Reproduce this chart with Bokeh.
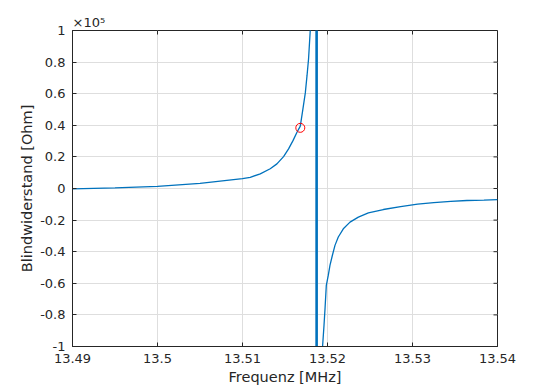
import math
from bokeh.plotting import figure
from bokeh.models import Range1d, FixedTicker
from bokeh.embed import file_html
from bokeh.resources import INLINE

# ---- data (frequency in MHz, reactance in Ohm) ----
left_f = [13.490, 13.495, 13.500, 13.505, 13.510, 13.51091, 13.51209, 13.51326,
          13.51405, 13.51483, 13.51542, 13.51594, 13.51641, 13.5168, 13.51711,
          13.51739, 13.51759, 13.51777, 13.51797, 13.5181]
left_x = [-300, 400, 1400, 3200, 6300, 7100, 9300, 12500,
          15600, 20200, 25100, 30300, 35600, 39500, 50400,
          60500, 71400, 82000, 100000, 130000]

pole_f = [13.51872, 13.51872]
pole_x = [150000, -150000]

right_f = [13.5193, 13.51942, 13.51959, 13.51971, 13.51986, 13.52009, 13.52029,
           13.52057, 13.52088, 13.52127, 13.52186, 13.52265, 13.52363, 13.52481,
           13.52657, 13.5286, 13.5306, 13.5325, 13.5345, 13.5364, 13.5384, 13.54]
right_x = [-130000, -100000, -86600, -76000, -61300, -55000, -48700,
           -42400, -36000, -30700, -25500, -21300, -18100, -15400,
           -13300, -11500, -9900, -8900, -8100, -7600, -7300, -7000]

marker_f = [13.5168]
marker_x = [38400]

x_ticks = [13.49, 13.5, 13.51, 13.52, 13.53, 13.54]
x_tick_labels = ["13.49", "13.5", "13.51", "13.52", "13.53", "13.54"]
y_ticks = [-100000, -80000, -60000, -40000, -20000, 0, 20000, 40000, 60000, 80000, 100000]
y_tick_labels = ["-1", "-0.8", "-0.6", "-0.4", "-0.2", "0", "0.2", "0.4", "0.6", "0.8", "1"]

x_label = "Frequenz [MHz]"
y_label = "Blindwiderstand [Ohm]"
exponent_label = "×10⁵"

FONT = "DejaVu Sans"
TXT = "#262626"
BLUE = "#0072BD"

p = figure(width=550, height=390, output_backend="svg", toolbar_location=None,
           x_range=Range1d(x_ticks[0], x_ticks[-1]), y_range=Range1d(y_ticks[0], y_ticks[-1]),
           min_border_left=72, min_border_right=53, min_border_top=30, min_border_bottom=44)
p.background_fill_color = "white"
p.border_fill_color = "white"
p.outline_line_color = TXT
p.outline_line_width = 1

p.line(left_f, left_x, line_color=BLUE, line_width=1.3)
p.line(pole_f, pole_x, line_color=BLUE, line_width=2.6)
p.line(right_f, right_x, line_color=BLUE, line_width=1.3)
p.scatter(marker_f, marker_x, marker="circle", size=9, fill_color=None,
          line_color="#ff0000", line_width=1)

# inward ticks on the top and right edges of the box
p.ray(x=x_ticks, y=[y_ticks[-1]] * len(x_ticks), length=4, length_units="screen",
      angle=-math.pi / 2, line_color=TXT, line_width=1)
p.ray(x=[x_ticks[-1]] * len(y_ticks), y=y_ticks, length=4, length_units="screen",
      angle=math.pi, line_color=TXT, line_width=1)

def style_axis(ax, ticks, labels):
    ax.ticker = FixedTicker(ticks=ticks)
    ax.minor_tick_line_color = None
    ax.major_tick_in = 4
    ax.major_tick_out = 0
    ax.axis_line_color = TXT
    ax.major_tick_line_color = TXT
    ax.major_label_text_font = FONT
    ax.major_label_text_color = TXT
    ax.major_label_text_font_size = "13px"
    ax.major_label_standoff = 7
    ax.major_label_overrides = {t: l for t, l in zip(ticks, labels)}
    ax.axis_label_text_font = FONT
    ax.axis_label_text_font_size = "14.5px"
    ax.axis_label_text_font_style = "normal"
    ax.axis_label_text_color = TXT

style_axis(p.xaxis[0], x_ticks, x_tick_labels)
style_axis(p.yaxis[0], y_ticks, y_tick_labels)
p.xaxis[0].axis_label = x_label
p.xaxis[0].axis_label_standoff = 3
p.yaxis[0].axis_label = y_label
p.yaxis[0].axis_label_standoff = 2

p.xgrid.ticker = FixedTicker(ticks=x_ticks)
p.ygrid.ticker = FixedTicker(ticks=y_ticks)
p.xgrid.grid_line_color = "#dedede"
p.ygrid.grid_line_color = "#dedede"

# exponent label  x10^5 as a left-aligned title
p.title.text = exponent_label
p.title.align = "left"
p.title.offset = 0
p.title.standoff = 2
p.title.text_font = FONT
p.title.text_font_size = "13px"
p.title.text_font_style = "normal"
p.title.text_color = TXT

open("out.html", "w").write(file_html(p, INLINE))
